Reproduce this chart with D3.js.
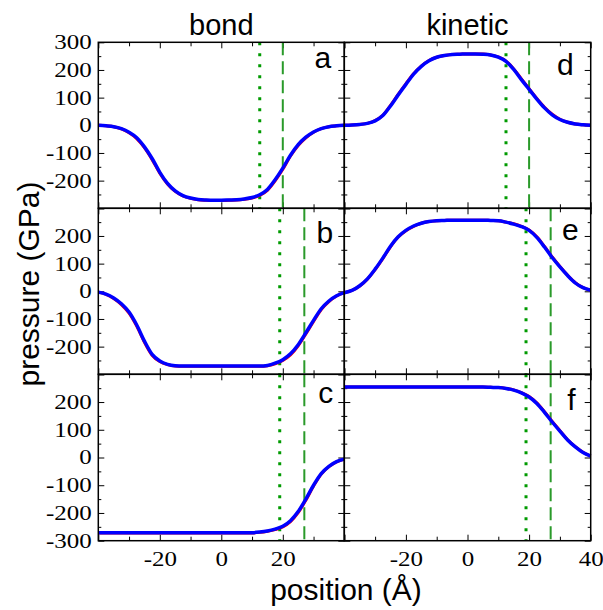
<!DOCTYPE html>
<html>
<head>
<meta charset="utf-8">
<script src="https://cdn.jsdelivr.net/npm/d3@7"></script>
<style>
  body { margin: 0; background: #fff; }
  .tick text { font-family: 'Liberation Serif', 'Times New Roman', serif; }
</style>
</head>
<body>
<div id="chart"></div>
<script>
// positions (Å) where the profiles are sampled
const positions = [-40, -37.5, -35, -32.5, -30, -27.5, -25, -22.5, -20, -17.5, -15, -12.5, -10, -7.5, -5, -2.5,
    0, 2.5, 5, 7.5, 10, 12.5, 15, 17.5, 20, 22.5, 25, 27.5, 30, 32.5, 35, 37.5, 40];

// bond pressure (GPa), blue and red profiles
const bondA = [0, -2, -5, -12, -25, -45, -78, -120, -170, -210, -237, -254, -263, -268, -270, -271,
    -271, -270, -269, -266, -261, -251, -232, -197, -155, -108, -70, -43, -24, -12, -5, -2, 0];
const bondARed = [0, -2, -5, -13, -27, -48, -81, -124, -173, -212, -239, -255, -264, -269, -271, -272,
    -272, -271, -270, -267, -263, -253, -235, -201, -159, -111, -73, -45, -25, -12, -5, -2, 0];
const bondB = [-3, -10, -24, -45, -75, -122, -180, -228, -252, -264, -269, -270, -270, -270, -270, -270,
    -270, -270, -270, -270, -270, -270, -268, -260, -247, -226, -193, -150, -105, -63, -35, -16, -5];
const bondBRed = [-3, -11, -26, -48, -79, -126, -184, -231, -254, -265, -270, -271, -271, -271, -271, -271,
    -271, -271, -271, -271, -271, -271, -269, -262, -250, -230, -197, -154, -109, -66, -37, -17, -5];
const bondC = [-271, -271, -271, -271, -271, -271, -271, -271, -271, -271, -271, -271, -271, -271, -271, -271,
    -271, -271, -271, -271, -271, -269, -265, -258, -248, -228, -195, -150, -100, -58, -32, -15, -6];
const bondCRed = [-272, -272, -272, -272, -272, -272, -272, -272, -272, -272, -272, -272, -272, -272, -272, -272,
    -272, -272, -272, -272, -272, -270, -266, -260, -250, -231, -199, -154, -103, -60, -33, -16, -6];

// kinetic pressure (GPa), blue and red profiles
const kinD = [0, 1, 3, 7, 16, 35, 70, 110, 148, 185, 213, 233, 246, 252, 256, 257,
    258, 258, 257, 254, 246, 231, 202, 165, 130, 95, 63, 38, 21, 11, 5, 2, 0];
const kinDRed = [0, 1, 3, 7, 17, 36, 72, 112, 150, 186, 214, 234, 246, 252, 256, 257,
    258, 258, 258, 254, 247, 232, 204, 168, 132, 97, 65, 40, 22, 11, 5, 2, 0];
const kinE = [-5, 3, 20, 45, 80, 120, 163, 197, 220, 236, 246, 252, 255, 256, 257, 257,
    257, 257, 257, 256, 255, 250, 243, 234, 220, 195, 160, 122, 88, 57, 30, 13, 4];
const kinERed = [-5, 3, 19, 44, 78, 118, 161, 196, 219, 235, 246, 252, 255, 256, 257, 257,
    257, 257, 257, 256, 255, 250, 244, 235, 222, 197, 162, 124, 90, 58, 31, 13, 4];
const kinF = [254, 254, 254, 254, 254, 254, 254, 254, 254, 254, 254, 254, 254, 254, 254, 254,
    254, 254, 254, 253, 252, 249, 243, 233, 218, 195, 163, 128, 95, 63, 38, 18, 5];
const kinFRed = [254, 254, 254, 254, 254, 254, 254, 254, 254, 254, 254, 254, 254, 254, 254, 254,
    254, 254, 254, 253, 252, 249, 244, 234, 220, 197, 165, 130, 97, 64, 39, 19, 5];

// marker lines per row (Å)
const dottedX = [12.5, 19, 19];
const dashedX = [20, 27, 27];

// tick labels
const yLabelsRow = [[300, 200, 100, 0, -100, -200], [200, 100, 0, -100, -200], [200, 100, 0, -100, -200, -300]];
const xLabelsLeft = [-20, 0, 20];
const xLabelsRight = [-20, 0, 20, 40];
const yMajor = [-300, -200, -100, 0, 100, 200, 300];
const yMinor = [-250, -150, -50, 50, 150, 250];
const xMajor = [-40, -20, 0, 20, 40];
const xMinor = [-30, -10, 10, 30];

const panels = [
    { id: "a", col: 0, row: 0, blue: bondA, red: bondARed },
    { id: "b", col: 0, row: 1, blue: bondB, red: bondBRed },
    { id: "c", col: 0, row: 2, blue: bondC, red: bondCRed },
    { id: "d", col: 1, row: 0, blue: kinD, red: kinDRed },
    { id: "e", col: 1, row: 1, blue: kinE, red: kinERed },
    { id: "f", col: 1, row: 2, blue: kinF, red: kinFRed }
];

// layout
const width = 603, height = 610;
const colX = [98.3, 344.3, 590.7];
const rowY = [42.3, 208.3, 374.3, 540.7];
const letterPos = { a: [13, 26], b: [11, 35], c: [11, 29], d: [17, 33], e: [12, 32], f: [15, 36] };
const tickScale = 1.25;

const svg = d3.select("#chart").append("svg")
    .attr("width", width)
    .attr("height", height)
    .style("font-family", "'Liberation Sans', Arial, sans-serif");

function styleTicks(sel) {
    sel.attr("font-family", "'Liberation Serif', 'Times New Roman', serif");
    sel.select(".domain").remove();
    sel.selectAll(".tick line").attr("stroke", "#000").attr("stroke-width", 1);
    sel.selectAll("text")
        .style("font-family", "'Liberation Serif', 'Times New Roman', serif")
        .style("font-size", "20px")
        .attr("fill", "#000");
}

panels.forEach(p => {
    const pw = colX[p.col + 1] - colX[p.col];
    const ph = rowY[p.row + 1] - rowY[p.row];
    const g = svg.append("g").attr("transform", `translate(${colX[p.col]},${rowY[p.row]})`);

    const x = d3.scaleLinear().domain([-40, 40]).range([0, pw]);
    const y = d3.scaleLinear().domain([-300, 300]).range([ph, 0]);

    // left axis
    const labels = p.col === 0 ? yLabelsRow[p.row] : [];
    const left = g.append("g")
        .call(d3.axisLeft(y).tickValues(yMajor).tickSize(-6).tickPadding(6.6 / tickScale)
            .tickFormat(d => labels.includes(d) ? d : ""));
    styleTicks(left);
    left.selectAll("text").attr("transform", `scale(${tickScale},1)`);
    styleTicks(g.append("g").call(d3.axisLeft(y).tickValues(yMinor).tickSize(-3).tickFormat("")));

    // right axis
    styleTicks(g.append("g").attr("transform", `translate(${pw},0)`)
        .call(d3.axisRight(y).tickValues(yMajor).tickSize(-6).tickFormat("")));
    styleTicks(g.append("g").attr("transform", `translate(${pw},0)`)
        .call(d3.axisRight(y).tickValues(yMinor).tickSize(-3).tickFormat("")));

    // top axis
    styleTicks(g.append("g").call(d3.axisTop(x).tickValues(xMajor).tickSize(-6).tickFormat("")));
    styleTicks(g.append("g").call(d3.axisTop(x).tickValues(xMinor).tickSize(-4).tickFormat("")));

    // bottom axis
    const xl = p.row === 2 ? (p.col === 0 ? xLabelsLeft : xLabelsRight) : [];
    const bottom = g.append("g").attr("transform", `translate(0,${ph})`)
        .call(d3.axisBottom(x).tickValues(xMajor).tickSize(-6).tickPadding(10.8)
            .tickFormat(d => xl.includes(d) ? d : ""));
    styleTicks(bottom);
    bottom.selectAll("text").attr("transform", `scale(${tickScale},1)`);
    styleTicks(g.append("g").attr("transform", `translate(0,${ph})`)
        .call(d3.axisBottom(x).tickValues(xMinor).tickSize(-4).tickFormat("")));

    // marker lines
    g.append("line")
        .attr("x1", x(dottedX[p.row])).attr("x2", x(dottedX[p.row]))
        .attr("y1", 0).attr("y2", ph)
        .attr("stroke", "#009a00")
        .attr("stroke-width", 3)
        .attr("stroke-dasharray", "3,8");
    g.append("line")
        .attr("x1", x(dashedX[p.row])).attr("x2", x(dashedX[p.row]))
        .attr("y1", 0).attr("y2", ph)
        .attr("stroke", "#2a9a2a")
        .attr("stroke-width", 2)
        .attr("stroke-dasharray", "13,6");

    const line = d3.line()
        .x((d, i) => x(positions[i]))
        .y(d => y(d))
        .curve(d3.curveMonotoneX);

    g.append("path").datum(p.red)
        .attr("d", line)
        .attr("fill", "none")
        .attr("stroke", "#ff0000")
        .attr("stroke-width", 3);
    g.append("path").datum(p.blue)
        .attr("d", line)
        .attr("fill", "none")
        .attr("stroke", "#0000ff")
        .attr("stroke-width", 3.5);

    // frame
    g.append("rect")
        .attr("width", pw).attr("height", ph)
        .attr("fill", "none")
        .attr("stroke", "#000")
        .attr("stroke-width", 1.5);

    // panel letter
    g.append("text")
        .attr("x", pw - letterPos[p.id][0])
        .attr("y", letterPos[p.id][1])
        .attr("text-anchor", "end")
        .style("font-size", "30px")
        .text(p.id);
});

// column titles and axis labels
svg.append("text")
    .attr("x", (colX[0] + colX[1]) / 2)
    .attr("y", 35)
    .attr("text-anchor", "middle")
    .style("font-size", "29px")
    .text("bond");

svg.append("text")
    .attr("x", (colX[1] + colX[2]) / 2)
    .attr("y", 35)
    .attr("text-anchor", "middle")
    .style("font-size", "29px")
    .text("kinetic");

svg.append("text")
    .attr("transform", "translate(38.5,284) rotate(-90)")
    .attr("text-anchor", "middle")
    .style("font-size", "30px")
    .text("pressure (GPa)");

svg.append("text")
    .attr("x", 346)
    .attr("y", 600)
    .attr("text-anchor", "middle")
    .style("font-size", "30px")
    .text("position (Å)");
</script>
</body>
</html>
